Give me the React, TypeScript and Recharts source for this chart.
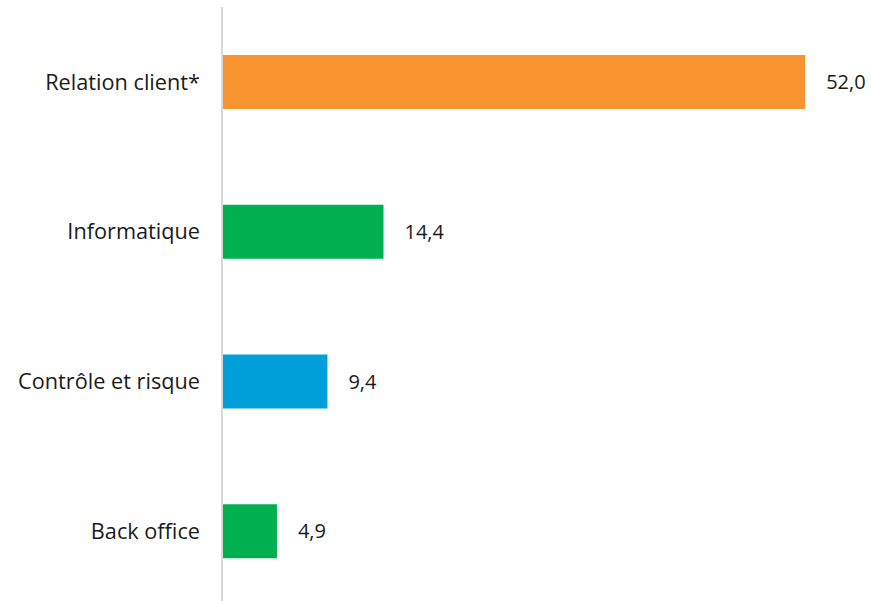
import { Bar, BarChart, Cell, LabelList, XAxis, YAxis } from "recharts";

const categories = ["Relation client*", "Informatique", "Contrôle et risque", "Back office"];
const values = [52.0, 14.4, 9.4, 4.9];
const colors = ["#F7942F", "#00B050", "#009FDA", "#00B050"];

const data = categories.map((name, i) => ({ name, value: values[i] }));

const fmt = (v: number) => v.toFixed(1).replace(".", ",");

export default function App() {
  return (
    <div
      style={{
        position: "absolute",
        top: 0,
        left: 0,
        width: 872,
        height: 601,
        overflow: "hidden",
        background: "#ffffff",
      }}
    >
      <BarChart
        width={872}
        height={610}
        data={data}
        layout="vertical"
        margin={{ top: 7, right: 22, bottom: 4, left: 0 }}
        barSize={54}
      >
        <XAxis type="number" domain={[0, 56]} hide />
        <YAxis
          type="category"
          dataKey="name"
          width={222}
          tickSize={0}
          tickMargin={22}
          axisLine={{ stroke: "#d9d9d9", strokeWidth: 2 }}
          tick={{ fill: "#1a1a1a", fontSize: 21.7, fontFamily: "Open Sans" }}
        />
        <Bar dataKey="value" isAnimationActive={false}>
          {data.map((d, i) => (
            <Cell key={d.name} fill={colors[i]} />
          ))}
          <LabelList
            dataKey="value"
            position="right"
            offset={21}
            formatter={(v: any) => fmt(Number(v))}
            style={{ fill: "#1a1a1a", fontSize: 20, fontFamily: "Open Sans" }}
          />
        </Bar>
      </BarChart>
    </div>
  );
}
